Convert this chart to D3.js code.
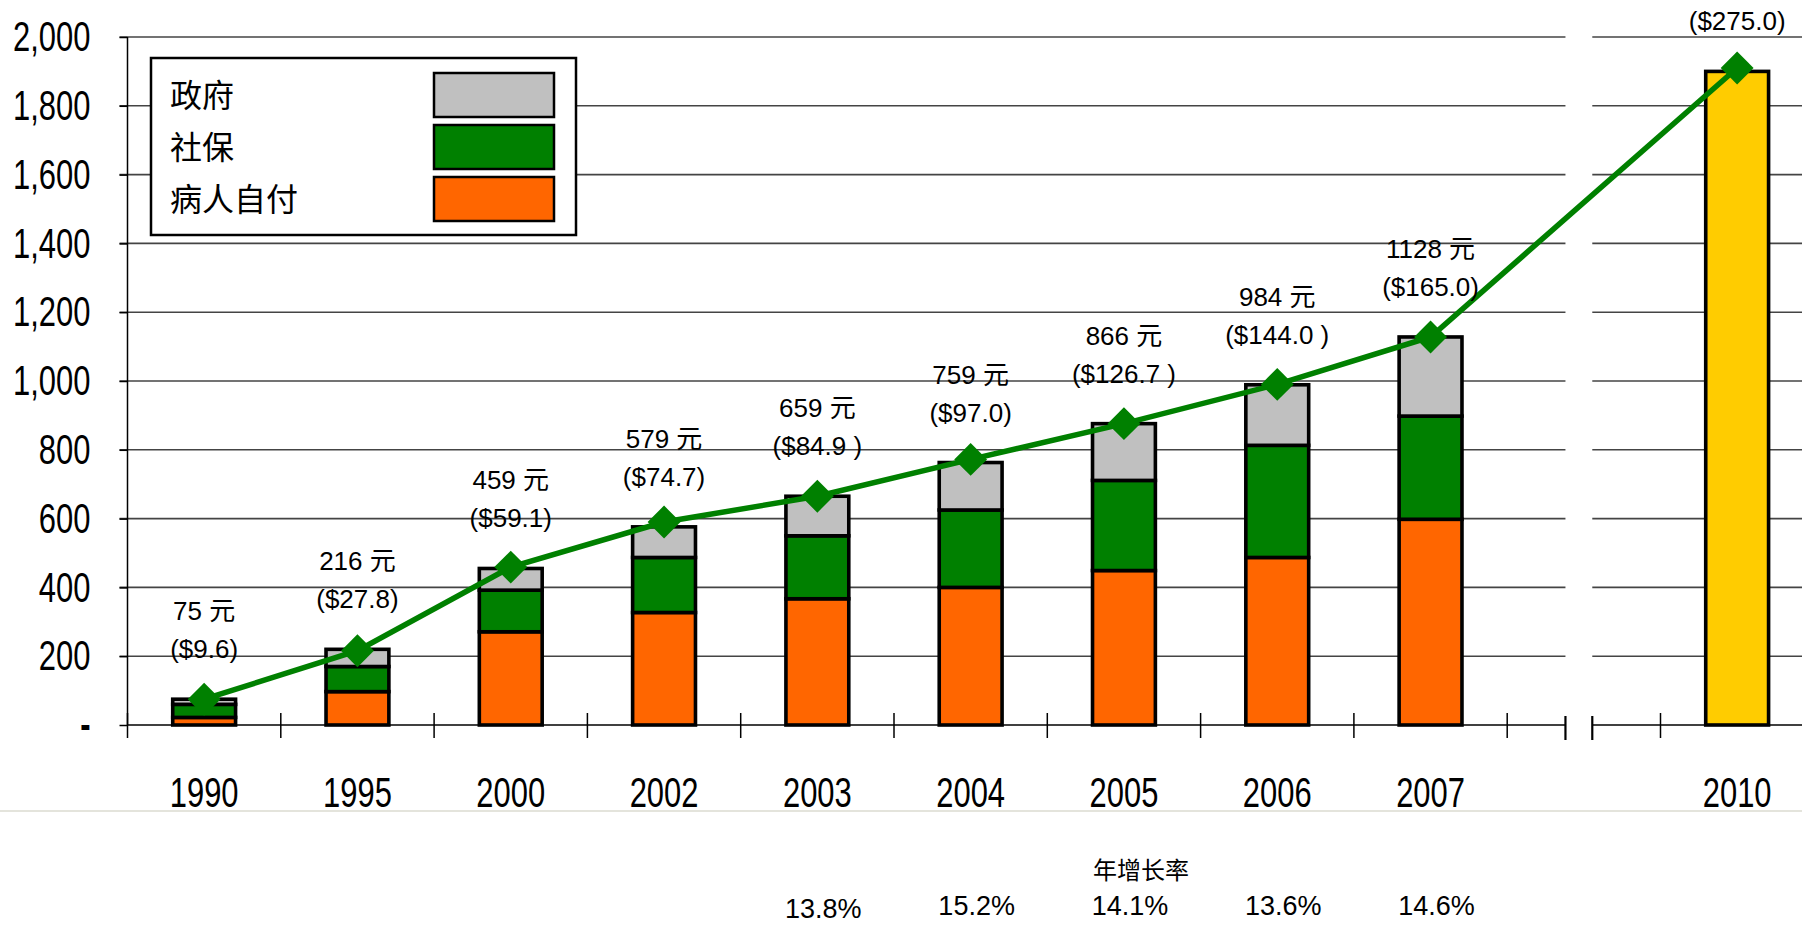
<!DOCTYPE html>
<html>
<head>
<meta charset="utf-8">
<script src="https://cdn.jsdelivr.net/npm/d3@7"></script>
<style>
  body { margin: 0; background: #fff; }
  svg  { display: block; }
</style>
</head>
<body>
<svg id="chart" width="1802" height="925"></svg>
<script>
// data (yuan per capita)
const years          = ['1990', '1995', '2000', '2002', '2003', '2004', '2005', '2006', '2007']
const slots          = ['1990', '1995', '2000', '2002', '2003', '2004', '2005', '2006', '2007', 'break', '2010']
const selfPay        = [22, 97, 271, 327, 367, 400, 449, 487, 598]
const insurance      = [38, 73, 121, 160, 183, 225, 262, 326, 300]
const government     = [15, 50, 63, 89, 115, 138, 165, 176, 230]
const projectedYears = ['2010']
const projectedTotal = [1900]
const lineYears      = ['1990', '1995', '2000', '2002', '2003', '2004', '2005', '2006', '2007', '2010']
const perCapita      = [75, 216, 459, 590, 665, 772, 876, 990, 1128, 1910]
const yuanLabels     = ['75 元', '216 元', '459 元', '579 元', '659 元', '759 元', '866 元', '984 元', '1128 元', '']
const usdLabels      = ['($9.6)', '($27.8)', '($59.1)', '($74.7)', '($84.9 )', '($97.0)', '($126.7 )', '($144.0 )', '($165.0)', '($275.0)']
const rateYears      = ['2003', '2004', '2005', '2006', '2007']
const rates          = ['13.8%', '15.2%', '14.1%', '13.6%', '14.6%']
const yTicks         = [0, 200, 400, 600, 800, 1000, 1200, 1400, 1600, 1800, 2000]
const legendLabels   = ['政府', '社保', '病人自付']

const
  svg       = d3.select('#chart'),
  W         = 1802,
  left      = 127.5,
  step      = 153.3,
  squeeze   = 0.72,   // the axis font is a very condensed face
  plain     = '"Liberation Sans", Arial, "Noto Sans CJK SC", sans-serif',
  cjk       = '"Noto Sans CJK SC", sans-serif',
  colors    = { selfPay: '#ff6600', insurance: '#008000', government: '#c0c0c0' }

const x = d3.scaleBand().domain(slots).range([left, left + step * slots.length]).padding(0)
const y = d3.scaleLinear().domain([0, 2000]).range([725, 37])

const
  barW       = x.bandwidth() * 0.41,
  cx         = d => x(d) + x.bandwidth() / 2,
  breakLeft  = x('break') + x.bandwidth() * 0.38,
  breakRight = x('break') + x.bandwidth() * 0.555

// slide separator line
svg.append('line')
  .attr('x1', 0).attr('x2', W).attr('y1', 811).attr('y2', 811)
  .attr('stroke', '#e4e4dc').attr('stroke-width', 2)

// gridlines, broken at the axis break
const grid = svg.append('g')
yTicks.filter(t => t > 0).forEach(t =>
{
  grid.append('line')
    .attr('x1', left - 8).attr('x2', breakLeft)
    .attr('y1', y(t)).attr('y2', y(t))
  grid.append('line')
    .attr('x1', breakRight).attr('x2', W)
    .attr('y1', y(t)).attr('y2', y(t))
})
grid.selectAll('line').attr('stroke', '#444').attr('stroke-width', 1.6)

// y axis
const yAxis = svg.append('g')
  .attr('transform', `translate(${left},0)`)
  .call(d3.axisLeft(y).tickValues(yTicks).tickSize(8).tickPadding(29)
    .tickFormat(d => d === 0 ? '-' : d3.format(',')(d)))

yAxis.select('.domain').attr('stroke', '#000').attr('stroke-width', 1.5).attr('d', `M0,${y(2000)}V${y(0)}`)
yAxis.selectAll('.tick line').attr('stroke', '#000').attr('stroke-width', 1.5)
yAxis.selectAll('.tick text')
  .attr('font-family', plain).attr('font-size', 43).attr('fill', '#000')
  .attr('x', -37 / squeeze)
  .attr('transform', `scale(${squeeze},1)`)
yAxis.selectAll('.tick text').filter(d => d === 0).attr('font-weight', 'bold')

// x axis line, ticks at slot boundaries, break marks
const xAxis = svg.append('g').attr('stroke', '#000').attr('stroke-width', 1.5)
xAxis.append('line').attr('x1', left).attr('x2', breakLeft).attr('y1', y(0)).attr('y2', y(0))
xAxis.append('line').attr('x1', breakRight).attr('x2', W).attr('y1', y(0)).attr('y2', y(0))
slots.forEach(s =>
{
  xAxis.append('line')
    .attr('x1', x(s)).attr('x2', x(s))
    .attr('y1', y(0) - 12).attr('y2', y(0) + 13)
})
;[breakLeft, breakRight].forEach(bx =>
{
  xAxis.append('line')
    .attr('x1', bx).attr('x2', bx)
    .attr('y1', y(0) - 9).attr('y2', y(0) + 15)
    .attr('stroke-width', 2.2)
})

svg.append('g').selectAll('text')
  .data(slots.filter(s => s !== 'break'))
  .join('text')
  .attr('transform', d => `translate(${cx(d)},807) scale(${squeeze},1)`)
  .attr('text-anchor', 'middle')
  .attr('font-family', plain).attr('font-size', 43)
  .text(d => d)

// stacked bars
const table = years.map((yr, i) => ({ year: yr, selfPay: selfPay[i], insurance: insurance[i], government: government[i] }))
const series = d3.stack().keys(['selfPay', 'insurance', 'government'])(table)

svg.append('g').selectAll('g')
  .data(series)
  .join('g')
  .attr('fill', d => colors[d.key])
  .selectAll('rect')
  .data(d => d)
  .join('rect')
  .attr('x', d => cx(d.data.year) - barW / 2)
  .attr('width', barW)
  .attr('y', d => y(d[1]))
  .attr('height', d => y(d[0]) - y(d[1]))
  .attr('stroke', '#000')
  .attr('stroke-width', 3.6)

svg.append('g').selectAll('rect')
  .data(projectedYears)
  .join('rect')
  .attr('x', d => cx(d) - barW / 2)
  .attr('width', barW)
  .attr('y', (d, i) => y(projectedTotal[i]))
  .attr('height', (d, i) => y(0) - y(projectedTotal[i]))
  .attr('fill', '#ffcc00')
  .attr('stroke', '#000')
  .attr('stroke-width', 3.6)

// per capita line
const points = lineYears.map((yr, i) => [cx(yr), y(perCapita[i])])
svg.append('path')
  .attr('d', d3.line()(points))
  .attr('fill', 'none')
  .attr('stroke', '#008000')
  .attr('stroke-width', 5.5)

svg.append('g').selectAll('path')
  .data(points)
  .join('path')
  .attr('d', d3.symbol(d3.symbolSquare, 540))
  .attr('transform', d => `translate(${d[0]},${d[1]}) rotate(45)`)
  .attr('fill', '#008000')

// value labels above bars
const barTops = years.map((yr, i) => selfPay[i] + insurance[i] + government[i]).concat(projectedTotal)
const labels = svg.append('g')
  .attr('font-family', plain).attr('font-size', 26).attr('text-anchor', 'middle').attr('fill', '#000')

lineYears.forEach((yr, i) =>
{
  const base = y(barTops[i]) - 41
  labels.append('text').attr('x', cx(yr)).attr('y', base - 38).text(yuanLabels[i])
  labels.append('text').attr('x', cx(yr)).attr('y', base).text(usdLabels[i])
})

// legend
const legend = svg.append('g')
legend.append('rect')
  .attr('x', 151).attr('y', 58).attr('width', 425).attr('height', 177)
  .attr('fill', '#fff').attr('stroke', '#000').attr('stroke-width', 2.5)

const item = legend.selectAll('g.item')
  .data(legendLabels)
  .join('g')
  .attr('class', 'item')
  .attr('transform', (d, i) => `translate(0,${73 + i * 52})`)

item.append('text')
  .attr('x', 170).attr('y', 34)
  .attr('font-family', cjk).attr('font-size', 32)
  .text(d => d)

item.append('rect')
  .attr('x', 434).attr('width', 120).attr('height', 44)
  .attr('fill', (d, i) => [colors.government, colors.insurance, colors.selfPay][i])
  .attr('stroke', '#000').attr('stroke-width', 2.5)

// annual growth rates
svg.append('text')
  .attr('x', 1141).attr('y', 879)
  .attr('text-anchor', 'middle')
  .attr('font-family', cjk).attr('font-size', 24)
  .text('年增长率')

svg.append('g').selectAll('text')
  .data(rateYears)
  .join('text')
  .attr('x', d => cx(d) + 6)
  .attr('y', (d, i) => i === 0 ? 918 : 915)
  .attr('text-anchor', 'middle')
  .attr('font-family', plain).attr('font-size', 27)
  .text((d, i) => rates[i])
</script>
</body>
</html>
